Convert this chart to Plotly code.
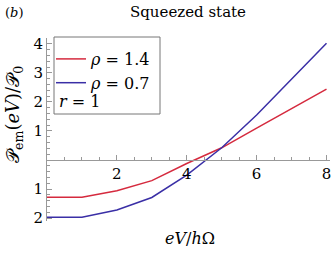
import plotly.graph_objects as go

x_vals = [0, 1, 2, 3, 4, 5, 6, 7, 8]
red_vals = [-1.28, -1.28, -1.06, -0.71, -0.12, 0.42, 1.10, 1.76, 2.44]
blue_vals = [-1.97, -1.97, -1.72, -1.29, -0.52, 0.42, 1.55, 2.77, 4.02]
red_name = "<i>ρ</i> = 1.4"
blue_name = "<i>ρ</i> = 0.7"
y_tickvals = [-2, -1, 1, 2, 3, 4]
y_ticktext = ["2", "1", "1", "2", "3", "4"]
x_tickvals = [2, 4, 6, 8]

SERIF = "DejaVu Serif"
W, H = 333, 256
ML, MR, MT, MB = 47, 3, 38, 35
xr = [0, 8.1]
yr = [-2.1, 4.2]
pw, ph = W - ML - MR, H - MT - MB

def px(xp):
    return (xp - ML) / pw

def py(yp):
    return (H - MB - yp) / ph

fig = go.Figure()
fig.add_trace(go.Scatter(x=x_vals, y=red_vals, mode="lines", name=red_name,
                         line=dict(color="#d52a3e", width=1.5)))
fig.add_trace(go.Scatter(x=x_vals, y=blue_vals, mode="lines", name=blue_name,
                         line=dict(color="#3a2fa6", width=1.5)))

axis_common = dict(showgrid=False, zeroline=False, showline=True, linecolor="#999999",
                   linewidth=1, ticks="inside", ticklen=5, tickcolor="#999999",
                   tickfont=dict(family=SERIF, size=15, color="black"))

fig.update_layout(
    width=W, height=H, margin=dict(l=ML, r=MR, t=MT, b=MB, autoexpand=False),
    plot_bgcolor="white", paper_bgcolor="white",
    font=dict(family=SERIF, color="black"),
    xaxis=dict(range=xr, tickvals=x_tickvals, anchor="free",
               position=(0 - yr[0]) / (yr[1] - yr[0]),
               minor=dict(dtick=0.5, ticklen=3, ticks="inside", tickcolor="#999999"),
               **axis_common),
    yaxis=dict(range=yr, tickvals=y_tickvals, ticktext=y_ticktext,
               minor=dict(dtick=0.2, ticklen=3, ticks="inside", tickcolor="#999999"),
               **axis_common),
    showlegend=True,
    legend=dict(x=px(51), y=py(42), xanchor="left", yanchor="top",
                bgcolor="rgba(0,0,0,0)", borderwidth=0,
                font=dict(family=SERIF, size=16, color="black"),
                itemwidth=30),
    title=dict(text="Squeezed state", x=(188) / W, xanchor="center",
               y=1 - 12 / H, yanchor="middle",
               font=dict(family=SERIF, size=15, color="black")),
)

fig.add_shape(type="rect", xref="paper", yref="paper",
              x0=px(54), x1=px(160), y0=py(37), y1=py(114),
              line=dict(color="#777777", width=1), fillcolor="rgba(0,0,0,0)")

fig.add_annotation(text="<i>r</i> = 1", xref="paper", yref="paper",
                   x=px(57), y=py(101), xanchor="left", yanchor="middle",
                   showarrow=False, font=dict(family=SERIF, size=16, color="black"))
fig.add_annotation(text="(<i>b</i>)", xref="paper", yref="paper",
                   x=px(3), y=py(12), xanchor="left", yanchor="middle",
                   showarrow=False, font=dict(family=SERIF, size=13, color="black"))
fig.add_annotation(text="<i>eV</i>/<i>h</i>Ω", xref="paper", yref="paper",
                   x=px(190), y=py(238), xanchor="center", yanchor="middle",
                   showarrow=False, font=dict(family=SERIF, size=16, color="black"))
fig.add_annotation(text="𝒫<sub>em</sub>(<i>eV</i>)/𝒫<sub>0</sub>", xref="paper", yref="paper",
                   x=px(14), y=py(115), xanchor="center", yanchor="middle",
                   textangle=-90, showarrow=False,
                   font=dict(family=SERIF, size=18, color="black"))

fig.write_html("out.html", config={"displayModeBar": False},
               post_script="document.body.style.margin='0';")
